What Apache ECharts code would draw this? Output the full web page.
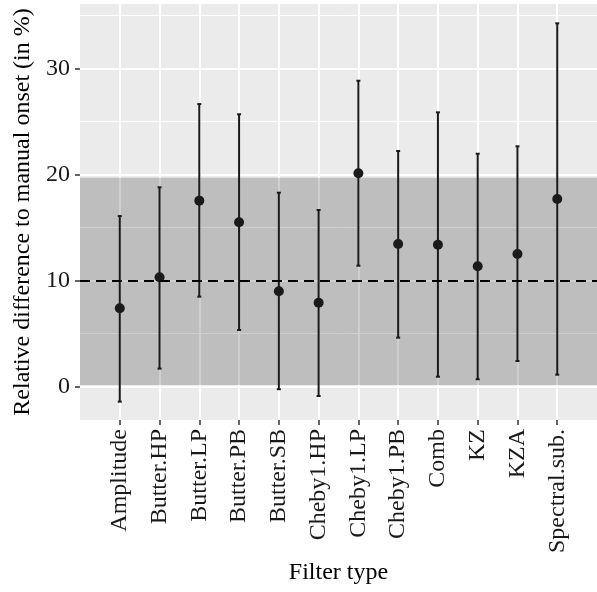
<!DOCTYPE html>
<html>
<head>
<meta charset="utf-8">
<script src="https://cdn.jsdelivr.net/npm/echarts@6/dist/echarts.min.js"></script>
<style>
html,body{margin:0;padding:0;background:#fff;}
#chart{width:597px;height:592px;}
</style>
</head>
<body>
<div id="chart"></div>
<script>
const categories = ['Amplitude','Butter.HP','Butter.LP','Butter.PB','Butter.SB','Cheby1.HP','Cheby1.LP','Cheby1.PB','Comb','KZ','KZA','Spectral.sub.'];
const means = [7.39, 10.31, 17.53, 15.49, 8.99, 7.91, 20.11, 13.45, 13.38, 11.34, 12.50, 17.69];
const lowers = [-1.41, 1.70, 8.48, 5.34, -0.24, -0.88, 11.40, 4.62, 0.94, 0.70, 2.42, 1.13];
const uppers = [16.08, 18.79, 26.63, 25.67, 18.28, 16.65, 28.83, 22.21, 25.85, 21.95, 22.65, 34.24];
const yTicks = [0, 10, 20, 30];
const bandRange = [0.16, 19.69];
const refLine = 10;
const yRange = [-3.14, 36.06];

const axisCats = [''].concat(categories, ['']);
const inner = (idx) => idx > 0 && idx < axisCats.length - 1;
const font = 'Liberation Serif';
const ink = '#1a1a1a';

const chart = echarts.init(document.getElementById('chart'), null, {renderer: 'canvas'});
chart.setOption({
  animation: false,
  backgroundColor: '#ffffff',
  grid: {left: 80, right: 0, top: 4, bottom: 172, show: true, backgroundColor: '#EBEBEB', borderWidth: 0},
  xAxis: {
    type: 'category',
    data: axisCats,
    boundaryGap: false,
    name: 'Filter type',
    nameLocation: 'middle',
    nameGap: 137,
    nameTextStyle: {fontFamily: font, fontSize: 24, color: '#000'},
    axisLine: {show: false, onZero: false},
    axisTick: {show: true, length: 5, interval: inner, lineStyle: {color: '#333', width: 1.5}},
    axisLabel: {interval: inner, rotate: 90, margin: 9, fontFamily: font, fontSize: 24, color: '#1a1a1a'},
    splitLine: {show: true, interval: inner, lineStyle: {color: '#ffffff', width: 2}}
  },
  yAxis: {
    type: 'value',
    min: yRange[0],
    max: yRange[1],
    splitNumber: 4,
    name: 'Relative difference to manual onset (in %)',
    nameLocation: 'middle',
    nameGap: 42,
    nameTextStyle: {fontFamily: font, fontSize: 24, color: '#000'},
    axisLine: {show: false, onZero: false},
    axisTick: {show: true, length: 5, customValues: yTicks, lineStyle: {color: '#333', width: 1.5}},
    axisLabel: {margin: 10, fontFamily: font, fontSize: 24, color: '#1a1a1a',
      formatter: (v) => (yTicks.indexOf(Math.round(v * 100) / 100) >= 0 ? String(v) : '')},
    splitLine: {show: true, lineStyle: {color: '#ffffff', width: 2}},
    minorTick: {show: false, splitNumber: 2},
    minorSplitLine: {show: true, lineStyle: {color: '#ffffff', width: 1}}
  },
  series: [
    {
      type: 'line',
      data: [],
      z: 1,
      silent: true,
      markArea: {
        silent: true,
        itemStyle: {color: 'rgba(0,0,0,0.19)'},
        data: [[{yAxis: bandRange[0]}, {yAxis: bandRange[1]}]]
      },
      markLine: {
        silent: true,
        symbol: ['none', 'none'],
        label: {show: false},
        lineStyle: {color: '#000', type: [10, 6], width: 2},
        data: [{yAxis: refLine}]
      }
    },
    {
      type: 'custom',
      z: 3,
      silent: true,
      data: categories.map((c, i) => [c, lowers[i], uppers[i]]),
      encode: {x: 0, y: [1, 2]},
      renderItem: function (params, api) {
        const lo = api.coord([api.value(0), api.value(1)]);
        const hi = api.coord([api.value(0), api.value(2)]);
        const cw = 2;
        const style = {stroke: ink, lineWidth: 2};
        return {
          type: 'group',
          children: [
            {type: 'line', shape: {x1: lo[0], y1: lo[1], x2: hi[0], y2: hi[1]}, style: style},
            {type: 'line', shape: {x1: lo[0] - cw, y1: lo[1], x2: lo[0] + cw, y2: lo[1]}, style: style},
            {type: 'line', shape: {x1: hi[0] - cw, y1: hi[1], x2: hi[0] + cw, y2: hi[1]}, style: style}
          ]
        };
      }
    },
    {
      type: 'scatter',
      z: 4,
      silent: true,
      symbol: 'circle',
      symbolSize: 10,
      itemStyle: {color: ink, opacity: 1},
      data: categories.map((c, i) => [c, means[i]])
    }
  ]
});
</script>
</body>
</html>
